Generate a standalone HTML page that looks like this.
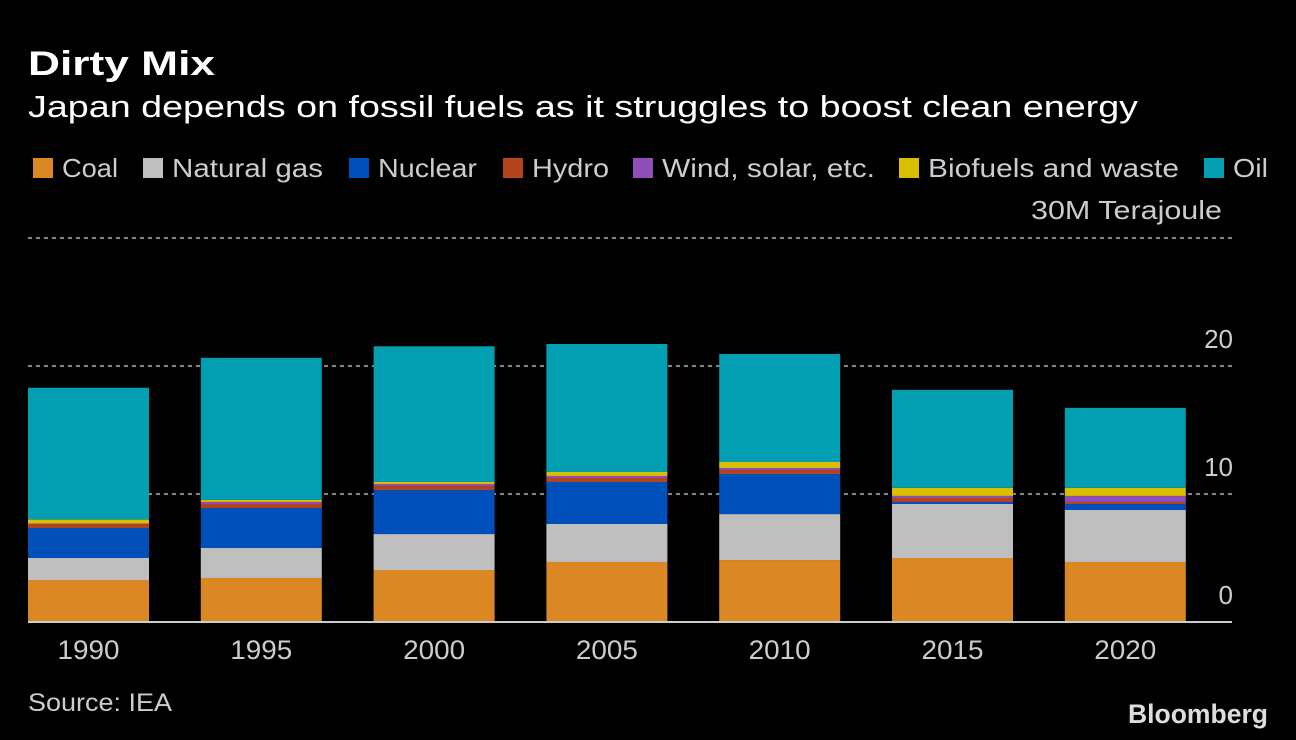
<!DOCTYPE html>
<html><head><meta charset="utf-8"><style>
body{margin:0;background:#000;width:1296px;height:740px;overflow:hidden;font-family:"Liberation Sans",sans-serif;color:#fff}
svg{position:absolute;left:0;top:0}
</style></head><body>
<svg width="1296" height="740" id="chart">
<text x="28" y="75" font-size="34" font-weight="bold" fill="#fff" textLength="187" lengthAdjust="spacingAndGlyphs">Dirty Mix</text>
<text x="28" y="117" font-size="31" fill="#fff" textLength="1110" lengthAdjust="spacingAndGlyphs">Japan depends on fossil fuels as it struggles to boost clean energy</text>
<g id="legend"></g>
<text x="1222" y="219" font-size="26" fill="#ccc" text-anchor="end" textLength="191" lengthAdjust="spacingAndGlyphs">30M Terajoule</text>
<g id="grid"></g><g id="bars"></g><g id="xlabels"></g>
<text x="28" y="711" font-size="25" fill="#ccc" textLength="144" lengthAdjust="spacingAndGlyphs">Source: IEA</text>
<text x="1128" y="723" font-size="27" font-weight="bold" fill="#ddd" textLength="140" lengthAdjust="spacingAndGlyphs">Bloomberg</text>
</svg>
<script>
const years=["1990","1995","2000","2005","2010","2015","2020"];
const seriesNames=["Coal","Natural gas","Nuclear","Hydro","Wind, solar, etc.","Biofuels and waste","Oil"];
const colors=["#db8824","#bfbfbf","#0050bc","#b5441e","#8d4fb7","#d9bf00","#019fb1"];
const coal=[3.28,3.44,4.06,4.69,4.84,5.0,4.69];
const gas=[1.72,2.34,2.81,2.97,3.59,4.22,4.06];
const nuclear=[2.34,3.13,3.44,3.28,3.13,0.16,0.47];
const hydro=[0.31,0.31,0.31,0.31,0.31,0.31,0.16];
const wind=[0.04,0.16,0.16,0.16,0.16,0.16,0.47];
const bio=[0.31,0.16,0.16,0.31,0.47,0.63,0.63];
const oil=[10.3,11.1,10.6,10.0,8.44,7.66,6.25];
const ticks=[0,10,20,30];
const series=[coal,gas,nuclear,hydro,wind,bio,oil];
const NS="http://www.w3.org/2000/svg";
const y=v=>622-v*12.8;
const bx=i=>28+i*172.8;
const bw=121;
function mk(t,a,p){const e=document.createElementNS(NS,t);for(const k in a)e.setAttribute(k,a[k]);p.appendChild(e);return e;}
const grid=document.getElementById('grid');
ticks.forEach(t=>{
 if(t>0){const l=mk('line',{x1:28,x2:1232,y1:y(t),y2:y(t),stroke:'#888','stroke-width':2,'stroke-dasharray':'4 4'},grid);
 
 }
 if(t<30){const tx=mk('text',{x:1233,y:y(t)-18,'font-size':26,fill:'#ccc','text-anchor':'end'},grid);tx.textContent=t;
 
 }
});
const bars=document.getElementById('bars');
years.forEach((yr,i)=>{
 let acc=0;
 series.forEach((s,j)=>{
  const r=mk('rect',{x:bx(i),y:y(acc+s[i]),width:bw,height:s[i]*12.8,fill:colors[j]},bars);
  
  
  acc+=s[i];
 });
 const t=mk('text',{x:bx(i)+bw/2,y:659,'font-size':27,fill:'#ccc','text-anchor':'middle',textLength:62,lengthAdjust:'spacingAndGlyphs'},document.getElementById('xlabels'));t.textContent=yr;
 
 
});
const base=mk('line',{x1:28,x2:1232,y1:622,y2:622,stroke:'#ccc','stroke-width':2},bars);


const lg=document.getElementById('legend');
const lx=[62,172,378,532,662,928,1233];
const lw=[56,151,99,77,213,251,35];
seriesNames.forEach((n,j)=>{
 const g=mk('g',{},lg);
 
 
 mk('rect',{x:lx[j]-29,y:158,width:20,height:20,fill:colors[j]},g);
 const t=mk('text',{x:lx[j],y:177,'font-size':26,fill:'#ccc',textLength:lw[j],lengthAdjust:'spacingAndGlyphs'},g);t.textContent=n;
});
</script>
</body></html>
